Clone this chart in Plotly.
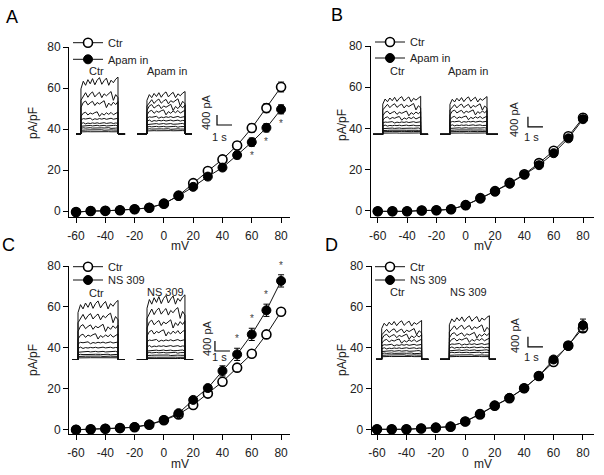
import plotly.graph_objects as go

W, H = 604, 475
FONT = "Liberation Sans, Arial, sans-serif"
TXT = "#222222"

# ---------------- data ----------------
mv = [-60, -50, -40, -30, -20, -10, 0, 10, 20, 30, 40, 50, 60, 70, 80]
x_ticks = [-60, -40, -20, 0, 20, 40, 60, 80]
y_ticks = [0, 20, 40, 60, 80]

a_ctr = [-0.5, 0.0, 0.1, 0.4, 0.9, 1.6, 3.6, 7.5, 13.6, 19.5, 25.2, 32.0, 40.5, 50.2, 60.5]
a_ctr_err = [0.3, 0.3, 0.3, 0.3, 0.3, 0.4, 0.5, 0.8, 1.0, 1.3, 1.6, 1.8, 2.0, 2.2, 2.4]
a_apa = [-0.5, 0.0, 0.1, 0.4, 0.9, 1.6, 3.6, 7.4, 11.8, 16.8, 21.2, 27.3, 33.6, 40.6, 49.6]
a_apa_err = [0.3, 0.3, 0.3, 0.3, 0.3, 0.4, 0.5, 0.8, 1.0, 1.2, 1.5, 1.8, 2.0, 2.0, 2.2]

b_ctr = [-0.2, -0.2, -0.2, 0.2, 0.3, 0.8, 2.8, 6.2, 9.6, 13.6, 17.8, 23.2, 29.2, 36.2, 45.2]
b_ctr_err = [0.2, 0.2, 0.2, 0.2, 0.2, 0.3, 0.4, 0.5, 0.6, 0.8, 0.9, 1.0, 1.2, 1.4, 1.8]
b_apa = [-0.2, -0.2, -0.2, 0.2, 0.3, 0.8, 2.8, 6.0, 9.4, 13.2, 17.6, 22.2, 28.0, 35.2, 44.5]
b_apa_err = [0.2, 0.2, 0.2, 0.2, 0.2, 0.3, 0.4, 0.5, 0.6, 0.8, 0.9, 1.0, 1.2, 1.4, 1.6]

c_ctr = [-0.2, 0.0, 0.3, 0.6, 1.0, 2.2, 4.4, 7.3, 11.9, 17.5, 23.3, 30.2, 37.0, 46.5, 57.6]
c_ctr_err = [0.2, 0.2, 0.2, 0.2, 0.3, 0.3, 0.4, 0.6, 0.9, 1.2, 1.5, 1.6, 1.2, 1.0, 1.2]
c_ns = [-0.2, 0.0, 0.3, 0.6, 1.1, 2.4, 4.6, 7.9, 14.4, 20.2, 28.6, 36.7, 46.5, 58.3, 72.7]
c_ns_err = [0.2, 0.2, 0.2, 0.2, 0.3, 0.3, 0.5, 0.7, 1.0, 1.5, 2.5, 3.0, 3.0, 3.0, 3.0]

d_ctr = [0.0, 0.0, 0.0, 0.4, 0.8, 1.3, 3.8, 7.3, 11.6, 15.2, 20.1, 26.1, 33.0, 41.0, 49.5]
d_ctr_err = [0.2, 0.2, 0.2, 0.2, 0.2, 0.3, 0.4, 0.6, 0.7, 0.8, 0.9, 1.0, 1.2, 1.6, 2.0]
d_ns = [0.0, 0.0, 0.0, 0.4, 0.8, 1.3, 3.8, 7.6, 11.6, 15.4, 20.1, 26.1, 34.2, 40.8, 51.0]
d_ns_err = [0.2, 0.2, 0.2, 0.2, 0.2, 0.3, 0.4, 0.6, 0.7, 0.8, 0.9, 1.0, 1.2, 1.6, 3.0]

a_sig = [60, 70, 80]
c_sig = [50, 60, 70, 80]

# inset current families (pA, step amplitudes per sweep)
a_tr_ctr = [2050, 1530, 1200, 800, 600, 430, 330, 240, 160, 90]
a_tr_apa = [1530, 1270, 1070, 870, 670, 530, 400, 290, 200, 130]
b_tr_ctr = [1370, 1110, 840, 640, 480, 350, 240, 160, 110, 50]
b_tr_apa = [1360, 1100, 880, 660, 500, 360, 250, 170, 110, 50]
c_tr_ctr = [2130, 1670, 1270, 930, 670, 470, 310, 200, 130, 70]
c_tr_ns = [2330, 1870, 1430, 1070, 760, 530, 360, 270, 170, 90, 40]
d_tr_ctr = [1400, 1110, 910, 730, 570, 440, 330, 240, 170, 110]
d_tr_ns = [1570, 1240, 970, 770, 600, 470, 360, 270, 170, 110]
# relative fluctuation along the step (read by eye from the top sweeps)
wiggle = [-0.12, 0.03, -0.05, 0.06, -0.02, 0.08, -0.04, 0.05, 0.10, -0.03,
          0.04, 0.09, -0.05, 0.05, 0.0, 0.07, 0.11]

# ---------------- helpers ----------------
def fx(px):
    return px / W


def fy(py):
    return 1 - py / H


fig = go.Figure()

panels = [
    dict(key="A", ctr=a_ctr, ctr_e=a_ctr_err, drug=a_apa, drug_e=a_apa_err, dname="Apam in",
         box=(69, 290, 47, 217), xr=(-64.8, 86.1), yr=(-2.9, 80),
         letter=(12, 17), ytit=(33, 123), mvpos=(180, 246), sig=a_sig, sig_dir=-1,
         leg=(42.7, 59.3), legx=68,
         ins=dict(origin=76, base=134, pApx=40, box=(66, 240, 70, 142),
                  fam=[(a_tr_ctr, 0.0, 3.27, 0.33, 2.8), (a_tr_apa, 4.07, 7.73, 4.73, 7.27)],
                  sb=(9.4, 360), lab=[(97, 71, "Ctr"), (167, 71, "Apam in")],
                  sbt=(206, 112), s1=(220, 137))),
    dict(key="B", ctr=b_ctr, ctr_e=b_ctr_err, drug=b_apa, drug_e=b_apa_err, dname="Apam in",
         box=(370.7, 594, 46, 216.7), xr=(-64.8, 87.5), yr=(-2.8, 80),
         letter=(337, 15), ytit=(342, 125), mvpos=(483, 246), sig=[], sig_dir=0,
         leg=(42, 58), legx=370,
         ins=dict(origin=373, base=134.3, pApx=40, box=(368, 548, 85, 142),
                  fam=[(b_tr_ctr, 0.0, 3.67, 0.65, 3.18), (b_tr_apa, 4.47, 8.33, 5.13, 7.6)],
                  sb=(10.33, 300), lab=[(397, 71, "Ctr"), (468, 71, "Apam in")],
                  sbt=(514, 119), s1=(531, 137))),
    dict(key="C", ctr=c_ctr, ctr_e=c_ctr_err, drug=c_ns, drug_e=c_ns_err, dname="NS 309",
         box=(69, 290, 266, 434), xr=(-64.8, 86.1), yr=(-2.3, 80),
         letter=(8, 245), ytit=(33, 360), mvpos=(180, 464), sig=c_sig, sig_dir=1,
         leg=(266.7, 280), legx=68,
         ins=dict(origin=72, base=359.5, pApx=40, box=(66, 236, 292, 366),
                  fam=[(c_tr_ctr, 0.0, 3.53, 0.4, 3.07), (c_tr_ns, 4.33, 8.07, 5.0, 7.53)],
                  sb=(9.53, 340), lab=[(97, 293, "Ctr"), (165, 292, "NS 309")],
                  sbt=(207, 338), s1=(220, 357))),
    dict(key="D", ctr=d_ctr, ctr_e=d_ctr_err, drug=d_ns, drug_e=d_ns_err, dname="NS 309",
         box=(371.7, 594, 266, 434), xr=(-63.6, 87.5), yr=(-2.3, 80),
         letter=(331, 245), ytit=(342, 360), mvpos=(483, 464), sig=[], sig_dir=0,
         leg=(266.7, 280), legx=370,
         ins=dict(origin=376, base=359.3, pApx=40, box=(368, 548, 312, 366),
                  fam=[(d_tr_ctr, 0.0, 3.49, 0.38, 3.04), (d_tr_ns, 4.27, 8.0, 4.89, 7.56)],
                  sb=(10.13, 500), lab=[(397, 292, "Ctr"), (468, 292, "NS 309")],
                  sbt=(515, 335), s1=(531, 357))),
]

annotations = []
layout_axes = {}

for i, p in enumerate(panels):
    n = i + 1
    xa = "x" if n == 1 else f"x{n}"
    ya = "y" if n == 1 else f"y{n}"
    x0, x1, y0, y1 = p["box"]
    axis_common = dict(showline=True, linecolor="black", linewidth=1, ticks="outside",
                       ticklen=5, tickwidth=1, tickcolor="black", showgrid=False,
                       zeroline=False, tickfont=dict(family=FONT, size=12, color=TXT))
    layout_axes["xaxis" if n == 1 else f"xaxis{n}"] = dict(
        domain=[fx(x0), fx(x1)], range=list(p["xr"]), anchor=ya,
        tickvals=x_ticks, ticktext=[str(v) for v in x_ticks], ticklabelstandoff=3,
        **axis_common)
    layout_axes["yaxis" if n == 1 else f"yaxis{n}"] = dict(
        domain=[fy(y1), fy(y0)], range=list(p["yr"]), anchor=xa,
        tickvals=y_ticks, ticktext=[str(v) for v in y_ticks], **axis_common)

    lg1 = f"legend{2 * i + 1}" if i > 0 else "legend"
    lg2 = f"legend{2 * i + 2}"
    fig.add_trace(go.Scatter(
        x=mv, y=p["ctr"], mode="lines+markers", name="Ctr", xaxis=xa, yaxis=ya,
        line=dict(color="#111111", width=1),
        marker=dict(symbol="circle", size=9, color="white", line=dict(color="black", width=1.6)),
        error_y=dict(type="data", array=p["ctr_e"], color="black", thickness=1, width=3),
        legend=lg1, showlegend=True))
    fig.add_trace(go.Scatter(
        x=mv, y=p["drug"], mode="lines+markers", name=p["dname"], xaxis=xa, yaxis=ya,
        line=dict(color="#111111", width=1),
        marker=dict(symbol="circle", size=9, color="black", line=dict(color="black", width=1)),
        error_y=dict(type="data", array=p["drug_e"], color="black", thickness=1, width=3),
        legend=lg2, showlegend=True))
    for k, (lgname, ly) in enumerate([(lg1, p["leg"][0]), (lg2, p["leg"][1])]):
        layout_axes[lgname] = dict(x=fx(p["legx"]), y=fy(ly), xanchor="left", yanchor="middle",
                                   bgcolor="rgba(0,0,0,0)", borderwidth=0,
                                   font=dict(family=FONT, size=11, color=TXT),
                                   itemwidth=30, tracegroupgap=0)

    for v in p["sig"]:
        idx = mv.index(v)
        if p["sig_dir"] < 0:
            yv = p["drug"][idx] - p["drug_e"][idx] - 1.0
            annotations.append(dict(x=v, y=yv, xref=xa, yref=ya, text="*", showarrow=False,
                                    yanchor="top", font=dict(family=FONT, size=10, color="#444444")))
        else:
            yv = p["drug"][idx] + p["drug_e"][idx] + 1.0
            annotations.append(dict(x=v, y=yv, xref=xa, yref=ya, text="*", showarrow=False,
                                    yanchor="bottom", font=dict(family=FONT, size=10, color="#444444")))

    annotations.append(dict(x=fx(p["letter"][0]), y=fy(p["letter"][1]), xref="paper", yref="paper",
                            text=p["key"], showarrow=False, xanchor="center", yanchor="middle",
                            font=dict(family=FONT, size=18, color="black")))
    annotations.append(dict(x=fx(p["ytit"][0]), y=fy(p["ytit"][1]), xref="paper", yref="paper",
                            text="pA/pF", textangle=-90, showarrow=False, xanchor="center",
                            yanchor="middle", font=dict(family=FONT, size=12, color=TXT)))
    annotations.append(dict(x=fx(p["mvpos"][0]), y=fy(p["mvpos"][1]), xref="paper", yref="paper",
                            text="mV", showarrow=False, xanchor="center", yanchor="middle",
                            font=dict(family=FONT, size=12, color=TXT)))

    ins = p["ins"]
    m = n + 4
    ixa, iya = f"x{m}", f"y{m}"
    bx0, bx1, by0, by1 = ins["box"]
    layout_axes[f"xaxis{m}"] = dict(domain=[fx(bx0), fx(bx1)],
                                    range=[(bx0 - ins["origin"]) / 15.0, (bx1 - ins["origin"]) / 15.0],
                                    visible=False, anchor=iya)
    layout_axes[f"yaxis{m}"] = dict(domain=[fy(by1), fy(by0)],
                                    range=[(ins["base"] - by1) * ins["pApx"], (ins["base"] - by0) * ins["pApx"]],
                                    visible=False, anchor=ixa)
    for fam, tb0, tb1, ton, toff in ins["fam"]:
        for k, amp in enumerate(fam):
            xs = [tb0, ton]
            ys = [0, 0]
            nw = len(wiggle)
            for j in range(nw):
                t = ton + (toff - ton) * j / (nw - 1)
                w = wiggle[(j + 3 * k) % nw] if j > 0 else wiggle[0]
                scale = 1.0 if k < 4 else 0.5
                xs.append(t)
                ys.append(amp * (1 + w * scale))
            xs += [toff, tb1]
            ys += [0, 0]
            fig.add_trace(go.Scatter(x=xs, y=ys, mode="lines", xaxis=ixa, yaxis=iya,
                                     line=dict(color="#111111", width=1), showlegend=False,
                                     hoverinfo="skip"))
    sbt, sblo = ins["sb"]
    fig.add_trace(go.Scatter(x=[sbt, sbt, sbt + 1], y=[sblo + 400, sblo, sblo], mode="lines",
                             xaxis=ixa, yaxis=iya, line=dict(color="black", width=1.2),
                             showlegend=False, hoverinfo="skip"))
    for lx, lyy, lt in ins["lab"]:
        annotations.append(dict(x=fx(lx), y=fy(lyy), xref="paper", yref="paper", text=lt,
                                showarrow=False, xanchor="center", yanchor="middle",
                                font=dict(family=FONT, size=11, color=TXT)))
    annotations.append(dict(x=fx(ins["sbt"][0]), y=fy(ins["sbt"][1]), xref="paper", yref="paper",
                            text="400 pA", textangle=-90, showarrow=False, xanchor="center",
                            yanchor="middle", font=dict(family=FONT, size=11, color=TXT)))
    annotations.append(dict(x=fx(ins["s1"][0]), y=fy(ins["s1"][1]), xref="paper", yref="paper",
                            text="1 s", showarrow=False, xanchor="center", yanchor="middle",
                            font=dict(family=FONT, size=11, color=TXT)))

fig.update_layout(
    width=W, height=H, margin=dict(l=0, r=0, t=0, b=0, autoexpand=False),
    paper_bgcolor="white", plot_bgcolor="rgba(0,0,0,0)",
    annotations=annotations, showlegend=True,
    **layout_axes,
)

fig.write_html("out.html", config={"displayModeBar": False},
               post_script="document.body.style.margin='0';document.body.style.overflow='hidden';")
